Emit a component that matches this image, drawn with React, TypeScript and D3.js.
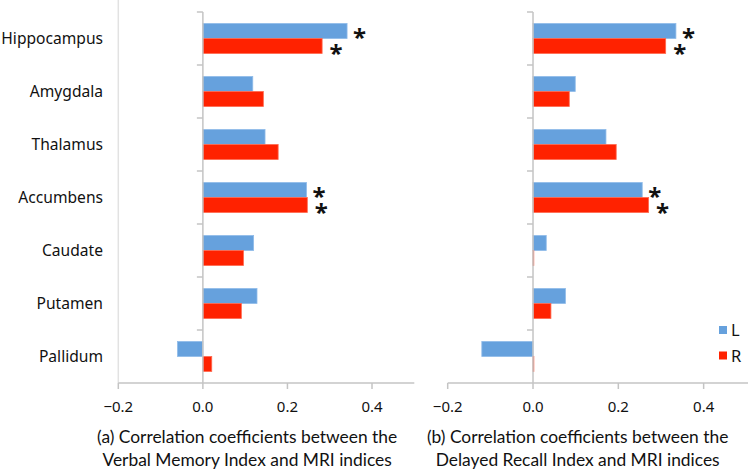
import React from "react";
import * as d3 from "d3";

const categories = ["Hippocampus", "Amygdala", "Thalamus", "Accumbens", "Caudate", "Putamen", "Pallidum"];
const verbalL = [0.341, 0.118, 0.147, 0.245, 0.12, 0.128, -0.06];
const verbalR = [0.282, 0.143, 0.178, 0.247, 0.096, 0.091, 0.021];
const delayedL = [0.335, 0.099, 0.171, 0.256, 0.031, 0.076, -0.12];
const delayedR = [0.311, 0.085, 0.195, 0.271, 0.001, 0.042, 0.002];
const verbalSigL = [true, false, false, true, false, false, false];
const verbalSigR = [true, false, false, true, false, false, false];
const delayedSigL = [true, false, false, true, false, false, false];
const delayedSigR = [true, false, false, true, false, false, false];
const xTicks = [-0.2, 0, 0.2, 0.4];
const xDomain: [number, number] = [-0.2, 0.5];
const captionsA = ["(a) Correlation coefficients between the", "Verbal Memory Index and MRI indices"];
const captionsB = ["(b) Correlation coefficients between the", "Delayed Recall Index and MRI indices"];
const seriesNames = ["L", "R"];

const BLUE = "#66a1dd";
const BLUE_STROKE = "#8fbbe9";
const RED = "#ff2200";
const RED_STROKE = "#ff6a50";
const AXIS = "#c4c4c4";
const LABEL_FONT = "'Noto Sans', 'DejaVu Sans', sans-serif";
const CAPTION_FONT = "Lato, 'Open Sans', sans-serif";

const TOP = 12;
const BOTTOM = 383;

type PanelProps = {
  x0: number;
  x1: number;
  L: number[];
  R: number[];
  sigL: boolean[];
  sigR: boolean[];
  caption: string[];
  border: boolean;
  axisStart: number;
  axisEnd: number;
};

function Panel({ x0, x1, L, R, sigL, sigR, caption, border, axisStart, axisEnd }: PanelProps) {
  const x = d3.scaleLinear().domain(xDomain).range([x0, x1]);
  const y = d3.scaleBand<string>().domain(categories).range([TOP, BOTTOM]).padding(0);
  const bw = y.bandwidth();
  const barH = bw * 0.283;
  const zero = x(0);
  const cx = (x(xDomain[0]) + x(0.4)) / 2 + 2;
  const bar = (v: number, yy: number, fill: string, stroke: string, key: string) => {
    const a = Math.min(x(0), x(v));
    const w = Math.max(Math.abs(x(v) - x(0)), 0.8);
    return <rect key={key} x={a} y={yy} width={w} height={barH} fill={fill} stroke={stroke} strokeWidth={0.8} />;
  };
  return (
    <g>
      {border && <line x1={x(xDomain[0])} x2={x(xDomain[0])} y1={0} y2={BOTTOM} stroke="#e2e2e2" strokeWidth={1.5} />}
      {categories.map((c, i) => {
        const yc = (y(c) as number) + bw / 2;
        return (
          <g key={c}>
            {bar(L[i], yc - barH, BLUE, BLUE_STROKE, "l")}
            {bar(R[i], yc, RED, RED_STROKE, "r")}
            {sigL[i] && (
              <text x={Math.max(x(L[i]), zero) + 12.5} y={yc - barH / 2 + 14.5} fontSize={24} fontFamily={LABEL_FONT} fontWeight="bold" textAnchor="middle" fill="#111">*</text>
            )}
            {sigR[i] && (
              <text x={Math.max(x(R[i]), zero) + 14} y={yc + barH / 2 + 16} fontSize={24} fontFamily={LABEL_FONT} fontWeight="bold" textAnchor="middle" fill="#111">*</text>
            )}
          </g>
        );
      })}
      {/* category axis at zero */}
      <line x1={zero} x2={zero} y1={TOP} y2={BOTTOM} stroke={AXIS} strokeWidth={1.5} />
      {categories.map((c) => (
        <line key={c} x1={zero - 6} x2={zero} y1={y(c) as number} y2={y(c) as number} stroke={AXIS} strokeWidth={1.5} />
      ))}
      {/* value axis */}
      <line x1={axisStart} x2={axisEnd} y1={BOTTOM} y2={BOTTOM} stroke={AXIS} strokeWidth={1.5} />
      {xTicks.map((t) => (
        <g key={t}>
          <line x1={x(t)} x2={x(t)} y1={BOTTOM} y2={BOTTOM + 6} stroke={AXIS} strokeWidth={1.5} />
          <text x={x(t)} y={BOTTOM + 29} fontSize={15} fontFamily={LABEL_FONT} textAnchor="middle" fill="#111">
            {t < 0 ? "\u2212" + Math.abs(t).toFixed(1) : t.toFixed(1)}
          </text>
        </g>
      ))}
      {caption.map((line, i) => (
        <text key={i} x={cx} y={443 + i * 23} fontSize={17.4} fontFamily={CAPTION_FONT} textAnchor="middle" fill="#111">
          {line}
        </text>
      ))}
    </g>
  );
}

export default function App() {
  const y = d3.scaleBand<string>().domain(categories).range([TOP, BOTTOM]).padding(0);
  const bw = y.bandwidth();
  return (
    <svg width={748} height={470} style={{ display: "block", position: "absolute", left: 0, top: 0, background: "#fff" }}>
      <rect x={0} y={0} width={748} height={470} fill="#fff" />
      {categories.map((c) => (
        <text key={c} x={103} y={(y(c) as number) + bw / 2 + 5.5} fontSize={15.6} fontFamily={LABEL_FONT} textAnchor="end" fill="#111">
          {c}
        </text>
      ))}
      <Panel x0={118.3} x1={414.3} L={verbalL} R={verbalR} sigL={verbalSigL} sigR={verbalSigR} caption={captionsA} border={true} axisStart={118.3} axisEnd={414.3} />
      <Panel x0={447.7} x1={746.3} L={delayedL} R={delayedR} sigL={delayedSigL} sigR={delayedSigR} caption={captionsB} border={false} axisStart={447.7} axisEnd={748} />
      {seriesNames.map((s, i) => (
        <g key={s}>
          <rect x={719} y={326 + i * 25.5} width={8} height={8} fill={i === 0 ? BLUE : RED} />
          <text x={731} y={336 + i * 25.5} fontSize={16.5} fontFamily={LABEL_FONT} fill="#111">{s}</text>
        </g>
      ))}
    </svg>
  );
}
